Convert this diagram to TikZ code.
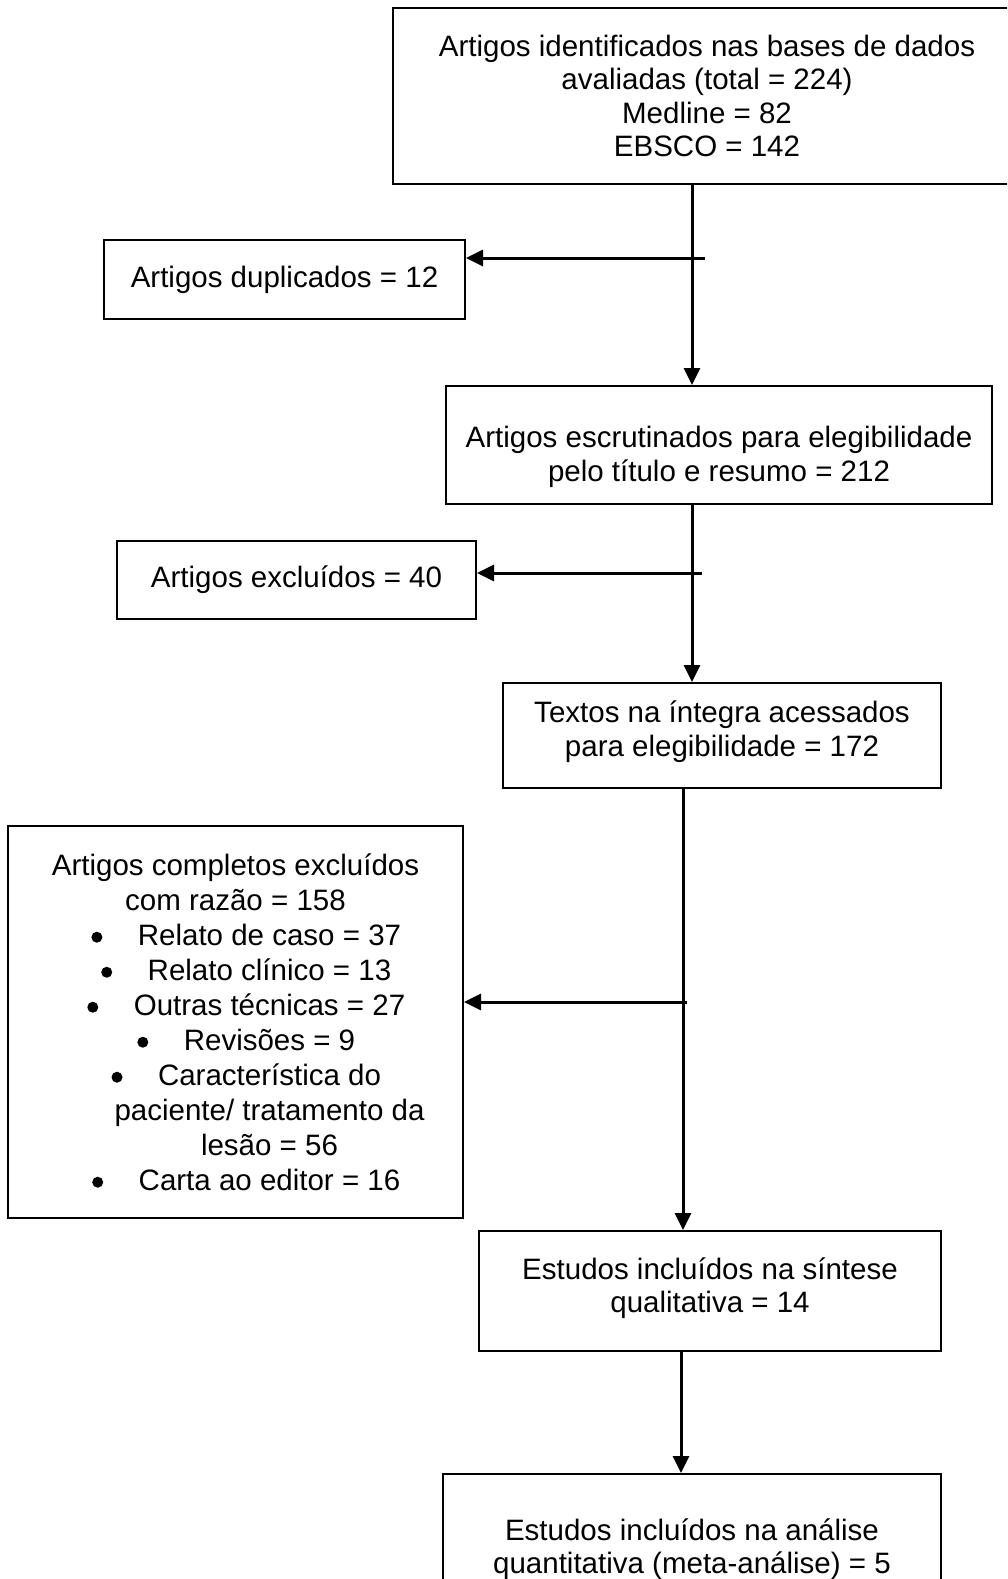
\documentclass[tikz,border=0pt]{standalone}
\usepackage{fontspec}
\setmainfont{Liberation Sans}
\usetikzlibrary{arrows.meta}
\tikzset{
  box/.style={draw, line width=2pt, rectangle, align=center, inner sep=0pt,
    font=\fontsize{29.5}{33.5}\selectfont},
  arr/.style={line width=3pt, -{Triangle[length=17pt,width=16pt]}},
}
\newcommand{\bul}{\tikz[x=1pt,y=1pt,baseline=0pt]\fill (0,0) rectangle (0,0) (5.5,8) circle (5.5pt);}
\newcommand{\itm}[1]{\hspace*{68pt}\llap{\bul\hspace{35.5pt}}#1}
\newcommand{\cnt}[1]{\hspace*{68pt}#1}
\begin{document}
\begin{tikzpicture}[x=1pt,y=-1pt]
\useasboundingbox (0,0) rectangle (1007,1579);
\clip (0,0) rectangle (1007,1579);
\fill[white] (0,0) rectangle (1007,1579);

\node[box, minimum width=628pt, minimum height=176pt] (b1) at (707,96)
  {Artigos identificados nas bases de dados\\avaliadas (total = 224)\\Medline = 82\\EBSCO = 142};
\node[box, minimum width=361pt, minimum height=79pt] (dup) at (284.5,279.5)
  {Artigos duplicados = 12};
\node[box, minimum width=546pt, minimum height=118pt] (b2) at (719,445)
  {\rule{0pt}{45pt}Artigos escrutinados para elegibilidade\\pelo título e resumo = 212};
\node[box, minimum width=359pt, minimum height=78pt] (exc) at (296.5,580)
  {Artigos excluídos = 40};
\node[box, minimum width=438pt, minimum height=105pt] (b3) at (722,735.5)
  {Textos na íntegra acessados\\para elegibilidade = 172\rule[-14pt]{0pt}{0pt}};
\node[box, minimum width=455pt, minimum height=392pt,
  font=\fontsize{29.5}{35}\selectfont] (b4) at (235.5,1022)
  {Artigos completos excluídos\\com razão = 158\\
   \itm{Relato de caso = 37}\\
   \itm{Relato clínico = 13}\\
   \itm{Outras técnicas = 27}\\
   \itm{Revisões = 9}\\
   \itm{Característica do}\\
   \cnt{paciente/ tratamento da}\\
   \cnt{lesão = 56}\\
   \itm{Carta ao editor = 16}};
\node[box, minimum width=462pt, minimum height=120pt] (b5) at (710,1291)
  {Estudos incluídos na síntese\\qualitativa = 14\rule[-12pt]{0pt}{0pt}};
\node[box, minimum width=498pt, minimum height=145pt] (b6) at (692,1546.5)
  {\rule{0pt}{27pt}Estudos incluídos na análise\\quantitativa (meta-análise) = 5};

\coordinate (m1) at (692,0);
\coordinate (m2) at (692,0);
\coordinate (m3) at (683,0);
\coordinate (m4) at (681,0);
\coordinate (s1) at (705,258);
\coordinate (s2) at (702,573);
\coordinate (s3) at (687,1002);

\draw[arr] (m1 |- b1.south) -- (m1 |- b2.north);
\draw[arr] (s1) -- (s1 -| dup.east);
\draw[arr] (m2 |- b2.south) -- (m2 |- b3.north);
\draw[arr] (s2) -- (s2 -| exc.east);
\draw[arr] (m3 |- b3.south) -- (m3 |- b5.north);
\draw[arr] (s3) -- (s3 -| b4.east);
\draw[arr] (m4 |- b5.south) -- (m4 |- b6.north);
\end{tikzpicture}
\end{document}
